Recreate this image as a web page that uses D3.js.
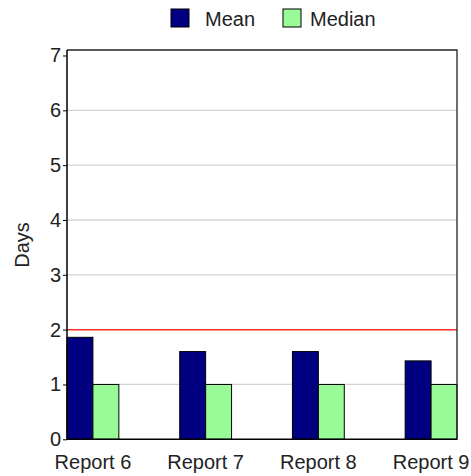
<!DOCTYPE html>
<html><head><meta charset="utf-8">
<script src="https://cdn.jsdelivr.net/npm/d3@7"></script>
<style>body{margin:0;background:#fff}svg{display:block;font-family:"Liberation Sans",Arial,sans-serif}</style>
</head><body><svg id="c" width="471" height="476"></svg>
<script>
const categories = ["Report 6","Report 7","Report 8","Report 9"];
const seriesNames = ["Mean","Median"];
const meanValues = [1.86,1.60,1.60,1.43];
const medianValues = [1,1,1,1];
const yTicks = [0,1,2,3,4,5,6,7];
const gridValues = [1,2,3,4,5,6];
const yMax = 7.1;
const target = 2;
const colors = ["#000080","#98fb98"];

const svg = d3.select("#c");
const L=67,R=457,T=50,B=439.3;
const FS=20, FF="Liberation Sans, Arial, sans-serif";
const y = d3.scaleLinear().domain([0,yMax]).range([B,T]);
const x = d3.scaleBand().domain(categories).range([L,R]).paddingInner(0.54).paddingOuter(0);
const x1 = d3.scaleBand().domain(seriesNames).range([0,x.bandwidth()]);

// gridlines
svg.append("g").selectAll("line").data(gridValues).join("line")
  .attr("x1",L).attr("x2",R).attr("y1",d=>y(d)).attr("y2",d=>y(d))
  .attr("stroke","#d3d3d3").attr("stroke-width",1.3);

// bars
const data = categories.map((c,i)=>({c, vals:[meanValues[i],medianValues[i]]}));
const g = svg.append("g").selectAll("g").data(data).join("g")
  .attr("transform",d=>`translate(${x(d.c)},0)`);
g.selectAll("rect").data(d=>d.vals.map((v,j)=>({s:seriesNames[j],v,j}))).join("rect")
  .attr("x",d=>x1(d.s)).attr("width",x1.bandwidth())
  .attr("y",d=>y(d.v)).attr("height",d=>B-y(d.v))
  .attr("fill",d=>colors[d.j]).attr("stroke","#000").attr("stroke-width",1);

// target line
svg.append("line").attr("x1",L).attr("x2",R).attr("y1",y(target)).attr("y2",y(target))
  .attr("stroke","#ff3030").attr("stroke-width",1.5);

// frame
svg.append("path").attr("d",`M${L},${T}H${R}V${B}`).attr("fill","none").attr("stroke","#222").attr("stroke-width",1.3);

// y axis
const ya = svg.append("g").attr("transform",`translate(${L},0)`)
  .call(d3.axisLeft(y).tickValues(yTicks).tickFormat(d3.format("d")).tickSize(4).tickPadding(2));
ya.select(".domain").attr("d",`M0,${T}V${B}`).attr("stroke","#000").attr("stroke-width",1.5);
ya.selectAll("text").attr("font-size",FS).attr("fill","#222").style("font-family",FF);

// x axis
const xa = svg.append("g").attr("transform",`translate(0,${B})`)
  .call(d3.axisBottom(x).tickSize(0).tickPadding(16));
xa.select(".domain").attr("d",`M${L},0H${R}`).attr("stroke","#000").attr("stroke-width",1.5);
xa.selectAll("text").attr("font-size",FS).attr("fill","#222").style("font-family",FF);

// y label
svg.append("text").attr("transform","translate(29,245) rotate(-90)").attr("text-anchor","middle")
  .attr("font-size",FS).attr("fill","#222").style("font-family",FF).text("Days");

// legend
const lg = svg.append("g");
const legX = [171,283];
seriesNames.forEach((s,i)=>{
  lg.append("rect").attr("x",legX[i]).attr("y",9).attr("width",18).attr("height",18)
    .attr("fill",colors[i]).attr("stroke","#000").attr("stroke-width",1);
  lg.append("text").attr("x",legX[i]+(i===0?34:27)).attr("y",26).attr("font-size",FS).attr("fill","#222").style("font-family",FF).text(s);
});
</script></body></html>
